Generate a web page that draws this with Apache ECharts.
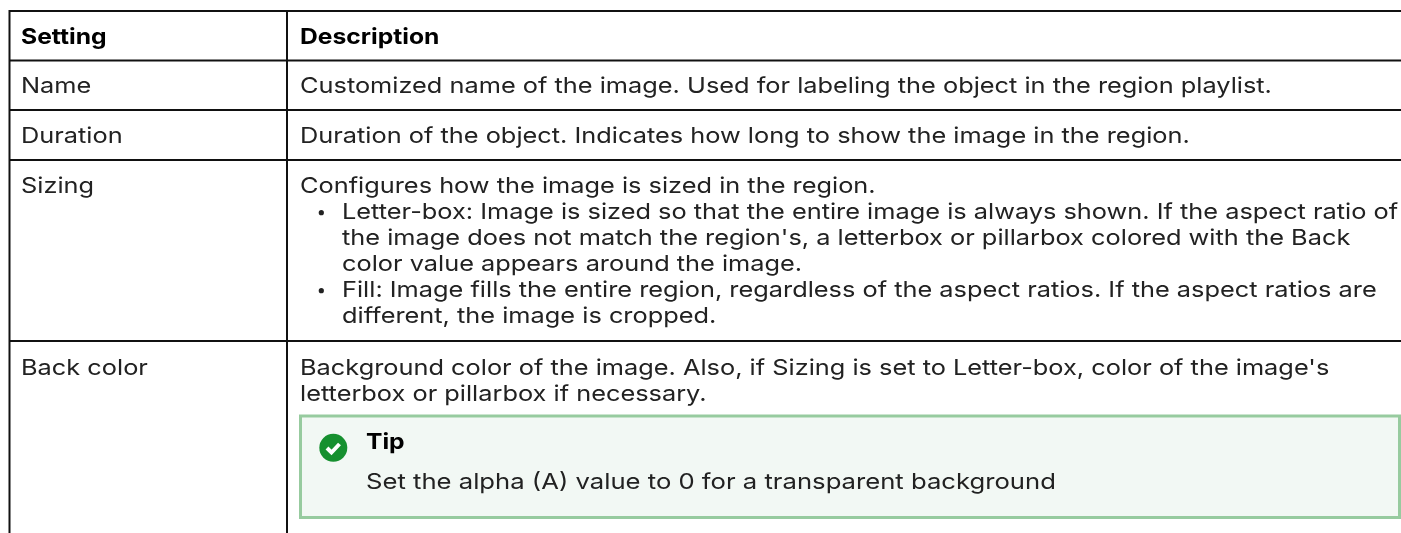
<!DOCTYPE html>
<html><head><meta charset="utf-8">
<style>html,body{margin:0;padding:0;background:#fff}#c{width:1401px;height:533px}</style>
<script src="https://cdn.jsdelivr.net/npm/echarts@6/dist/echarts.min.js"></script></head>
<body><div id="c"></div>
<script>
const headers = ["Setting", "Description"];
const settings = ["Name", "Duration", "Sizing", "Back color"];
const nameLines = ["Customized name of the image. Used for labeling the object in the region playlist."];
const durationLines = ["Duration of the object. Indicates how long to show the image in the region."];
const sizingLines = [
  "Configures how the image is sized in the region.",
  "Letter-box: Image is sized so that the entire image is always shown. If the aspect ratio of",
  "the image does not match the region's, a letterbox or pillarbox colored with the Back",
  "color value appears around the image.",
  "Fill: Image fills the entire region, regardless of the aspect ratios. If the aspect ratios are",
  "different, the image is cropped."
];
const backLines = [
  "Background color of the image. Also, if Sizing is set to Letter-box, color of the image's",
  "letterbox or pillarbox if necessary."
];
const tipTitle = "Tip";
const tipBody = "Set the alpha (A) value to 0 for a transparent background";

const FONT = "Inter";
const SIZE = 22;
const INK = "#222";
const g = [];
function text(s, x, y, isBold, sx) {
  g.push({type:"text", x, y, scaleX:sx||(isBold?1.12:1.152), silent:true, z:5, style:{
    text:s, fill:isBold?"#000":INK, font:`${isBold?700:400} ${SIZE}px ${FONT}`,
    textVerticalAlign:"middle", textBaseline:"middle"}});
}
function rule(x1,y1,x2,y2,w,c){
  g.push({type:"line", silent:true, z:3, shape:{x1,y1,x2,y2}, style:{stroke:c||"#111", lineWidth:w||2}});
}
[11,60.5,110,160,341].forEach(y=>rule(9,y,1401,y,2));
rule(9.5,10,9.5,533,2); rule(287,10,287,533,2);

text(headers[0],21,37,true);
text(headers[1],300,37,true);
[86,136,186,368].forEach((y,i)=>text(settings[i],21,y));
text(nameLines[0],300,86);
text(durationLines[0],300,136);
const sizingY=[186,212,238,264,290,316];
const sizingX=[300,342,342,342,342,342];
sizingLines.forEach((s,i)=>text(s,sizingX[i],sizingY[i]));
[212.7,290.7].forEach(y=>g.push({type:"circle",silent:true,z:5,shape:{cx:321.3,cy:y,r:2.6},style:{fill:INK}}));
backLines.forEach((s,i)=>text(s,300,368+i*26));

g.push({type:"rect",silent:true,z:2,shape:{x:300.5,y:416,width:1099,height:101.5},style:{fill:"#f2f8f4",stroke:"#97cb9f",lineWidth:3}});
g.push({type:"circle",silent:true,z:5,shape:{cx:333.3,cy:447.8,r:14},style:{fill:"#16902f"}});
g.push({type:"polyline",silent:true,z:6,shape:{points:[[327,448],[331.5,452.5],[339.5,444]]},style:{stroke:"#fff",lineWidth:4,fill:null}});
text(tipTitle,366,442,true);
text(tipBody,366,482,false,1.166);

const chart = echarts.init(document.getElementById("c"),null,{renderer:"canvas"});
chart.setOption({animation:false,backgroundColor:"#fff",graphic:{elements:g}});
</script></body></html>
